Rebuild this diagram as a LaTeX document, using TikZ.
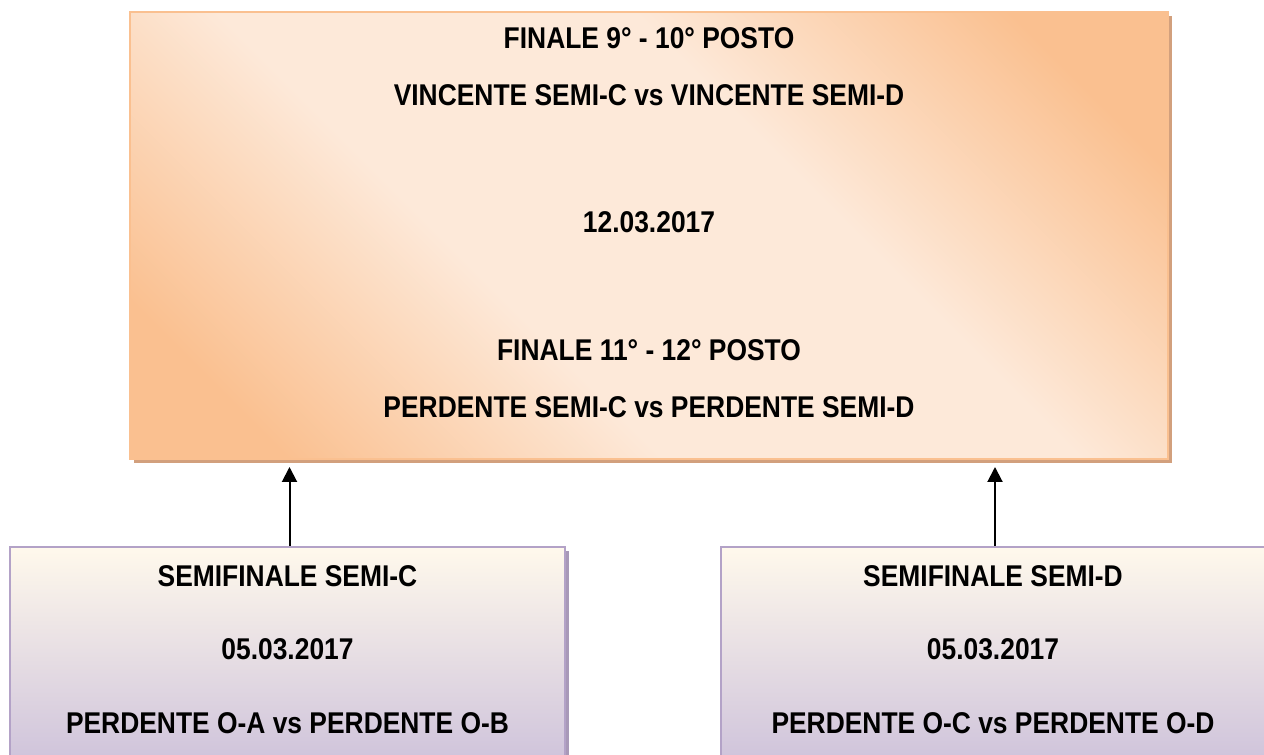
\documentclass[tikz,border=0pt]{standalone}
\usepackage{fontspec}
\setmainfont[FakeStretch=0.88]{Liberation Sans}
\usetikzlibrary{positioning, arrows.meta, shadows}

\definecolor{peach}{HTML}{FAC090}
\definecolor{peachlight}{HTML}{FDE9D9}
\definecolor{peachshadow}{HTML}{D2A07D}
\definecolor{cream}{HTML}{FFF9EC}
\definecolor{lilac}{HTML}{CCC0DA}
\definecolor{lilacline}{HTML}{B3A2C7}
\definecolor{lilacshadow}{HTML}{A899B8}

\pgfdeclareverticalshading{peachband}{100bp}{color(0bp)=(peach); color(22bp)=(peach);
  color(40bp)=(peachlight); color(60bp)=(peachlight); color(78bp)=(peach); color(100bp)=(peach)}

\tikzset{
  final box/.style = {draw = peach, line width = 1pt, shading = peachband, shading angle = -45,
    drop shadow = {shadow xshift = 2pt, shadow yshift = -2pt, fill = peachshadow, opacity = 1},
    minimum width = 519pt, minimum height = 223.5pt},
  semi box/.style = {draw = lilacline, line width = 1pt, top color = cream, bottom color = lilac,
    drop shadow = {shadow xshift = 2pt, shadow yshift = -2pt, fill = lilacshadow, opacity = 1},
    minimum height = 113.5pt},
  line/.style = {inner sep = 0pt, anchor = center}
}

\begin{document}
\begin{tikzpicture}[x = 0.5pt, y = 0.5pt, font = \fontsize{15}{18}\selectfont\bfseries]
  \useasboundingbox (0,0) rectangle (1264,755);

  \node (final) [final box] at (649,519.5) {};
  \node (semic) [semi box, minimum width = 277.5pt] at (287.5,94.5) {};
  \node (semid) [semi box, minimum width = 272pt] at (993,94.5) {};

  % finals
  \node (fin9) [line] at ([yshift = -13.5pt]final.north) {FINALE 9° - 10° POSTO};
  \node (winners) [line] at ([yshift = -42pt]final.north) {VINCENTE SEMI-C vs VINCENTE SEMI-D};
  \node (findate) [line] at ([yshift = -105.5pt]final.north) {12.03.2017};
  \node (fin11) [line] at ([yshift = -169.5pt]final.north) {FINALE 11° - 12° POSTO};
  \node (losers) [line] at ([yshift = -198pt]final.north) {PERDENTE SEMI-C vs PERDENTE SEMI-D};

  % semifinals
  \node (semictitle) [line] at ([yshift = -15pt]semic.north) {SEMIFINALE SEMI-C};
  \node (semicdate) [line] at ([yshift = -51.5pt]semic.north) {05.03.2017};
  \node (semicteams) [line] at ([yshift = -88.5pt]semic.north) {PERDENTE O-A vs PERDENTE O-B};
  \node (semidtitle) [line] at ([yshift = -15pt]semid.north) {SEMIFINALE SEMI-D};
  \node (semiddate) [line] at ([yshift = -51.5pt]semid.north) {05.03.2017};
  \node (semidteams) [line] at ([yshift = -88.5pt]semid.north) {PERDENTE O-C vs PERDENTE O-D};

  \draw [line width = 1pt, -{Triangle[width = 7.5pt, length = 7.5pt]}, shorten > = 3.5pt]
    ([xshift = 1pt]semic.north) -- ([xshift = 1pt]semic.north |- final.south);
  \draw [line width = 1pt, -{Triangle[width = 7.5pt, length = 7.5pt]}, shorten > = 3.5pt]
    ([xshift = 1pt]semid.north) -- ([xshift = 1pt]semid.north |- final.south);
\end{tikzpicture}
\end{document}
